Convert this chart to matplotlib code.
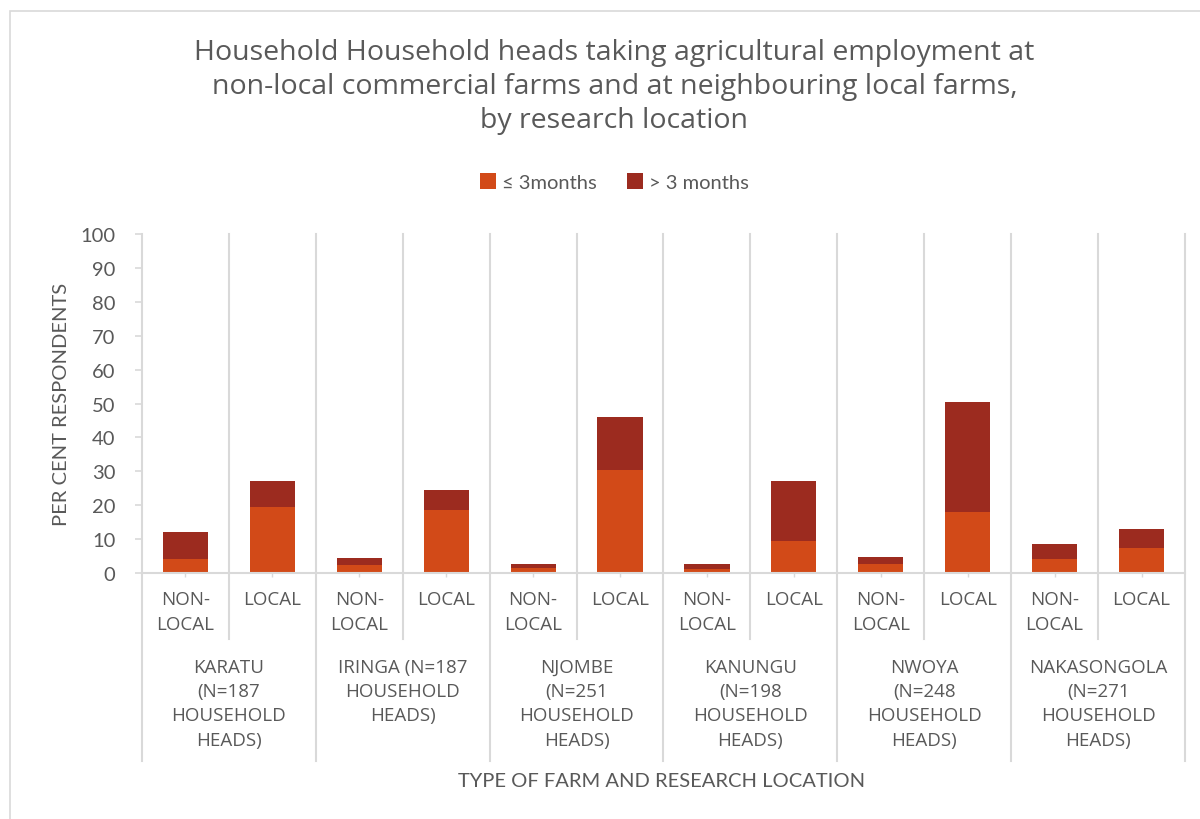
import matplotlib
matplotlib.use("Agg")
import matplotlib.pyplot as plt
import matplotlib.transforms as mtransforms
from matplotlib.patches import Rectangle

plt.rcParams['font.family'] = ['Open Sans', 'DejaVu Sans']

locations = ['KARATU\n(N=187\nHOUSEHOLD\nHEADS)', 'IRINGA (N=187\nHOUSEHOLD\nHEADS)',
             'NJOMBE\n(N=251\nHOUSEHOLD\nHEADS)', 'KANUNGU\n(N=198\nHOUSEHOLD\nHEADS)',
             'NWOYA\n(N=248\nHOUSEHOLD\nHEADS)', 'NAKASONGOLA\n(N=271\nHOUSEHOLD\nHEADS)']
farm_types = ['NON-\nLOCAL', 'LOCAL']
# per cent respondents, order: non-local, local for each location
short_term = [4.0, 19.5, 2.4, 18.6, 1.4, 30.5, 1.1, 9.3, 2.6, 17.9, 4.0, 7.4]
long_term = [8.1, 7.5, 2.0, 5.9, 1.2, 15.6, 1.6, 17.7, 2.0, 32.4, 4.6, 5.6]

c_short = '#D24A18'
c_long = '#9C2B1F'
grey = '#595959'
grid = '#D9D9D9'

fig = plt.figure(figsize=(12, 8.2), dpi=100)
ax = fig.add_axes([0.1183, 0.30, 0.8692, 0.4134])

x = list(range(len(short_term)))
ax.bar(x, short_term, width=0.52, color=c_short, label='≤ 3months')
ax.bar(x, long_term, width=0.52, bottom=short_term, color=c_long, label='> 3 months')

ax.set_xlim(-0.5, len(x) - 0.5)
ax.set_ylim(0, 100)
ax.set_yticks(range(0, 101, 10))
ax.tick_params(axis='y', colors=grid, labelcolor=grey, labelsize=14.5, length=5, width=1.2, pad=14)
for lab in ax.get_yticklabels():
    lab.set_fontfamily('Lato')
ax.set_xticks(x)
ax.set_xticklabels(farm_types * len(locations), fontsize=13.5, color=grey, linespacing=1.5)
ax.tick_params(axis='x', colors=grid, labelcolor=grey, length=3, width=1, pad=9)

for s in ['top', 'right', 'left']:
    ax.spines[s].set_visible(False)
ax.spines['bottom'].set_color(grid)
ax.spines['bottom'].set_linewidth(1.5)

trans = mtransforms.blended_transform_factory(ax.transData, ax.transAxes)
for b in range(len(x) + 1):
    xb = b - 0.5
    bottom = -0.555 if b % 2 == 0 else -0.195
    ax.plot([xb, xb], [bottom, 1.0], color=grid, lw=1.5, transform=trans, clip_on=False, zorder=0)

for i, loc in enumerate(locations):
    ax.text(2 * i + 0.5, -0.25, loc, transform=trans, ha='center', va='top',
            fontsize=13.5, color=grey, linespacing=1.45)

ax.text(0.4986, -0.611, 'TYPE OF FARM AND RESEARCH LOCATION', transform=ax.transAxes,
        ha='center', va='center', fontsize=14.5, color=grey, family='Lato')
ax.text(-0.0767, 0.5, 'PER CENT RESPONDENTS', transform=ax.transAxes, rotation=90,
        ha='center', va='center', fontsize=14.5, color=grey, family='Lato')

fig.text(0.512, 1 - 87 / 820,
         'Household Household heads taking agricultural employment at\n'
         'non-local commercial farms and at neighbouring local farms,\n'
         'by research location',
         ha='center', va='center', fontsize=20.5, color=grey, linespacing=1.3)

fig.legend(loc='center', bbox_to_anchor=(0.512, 1 - 183 / 820), ncol=2, frameon=False,
           handlelength=0.8, handleheight=0.8, handletextpad=0.3, columnspacing=1.5,
           prop={'family': 'Lato', 'size': 14.5}, labelcolor=grey)

fig.patches.append(Rectangle((10 / 1200, -0.1), 1.2, 1 - 12 / 820 + 0.1, transform=fig.transFigure,
                             fill=False, edgecolor=grid, lw=1.2))

fig.savefig('out.png', dpi=100)
